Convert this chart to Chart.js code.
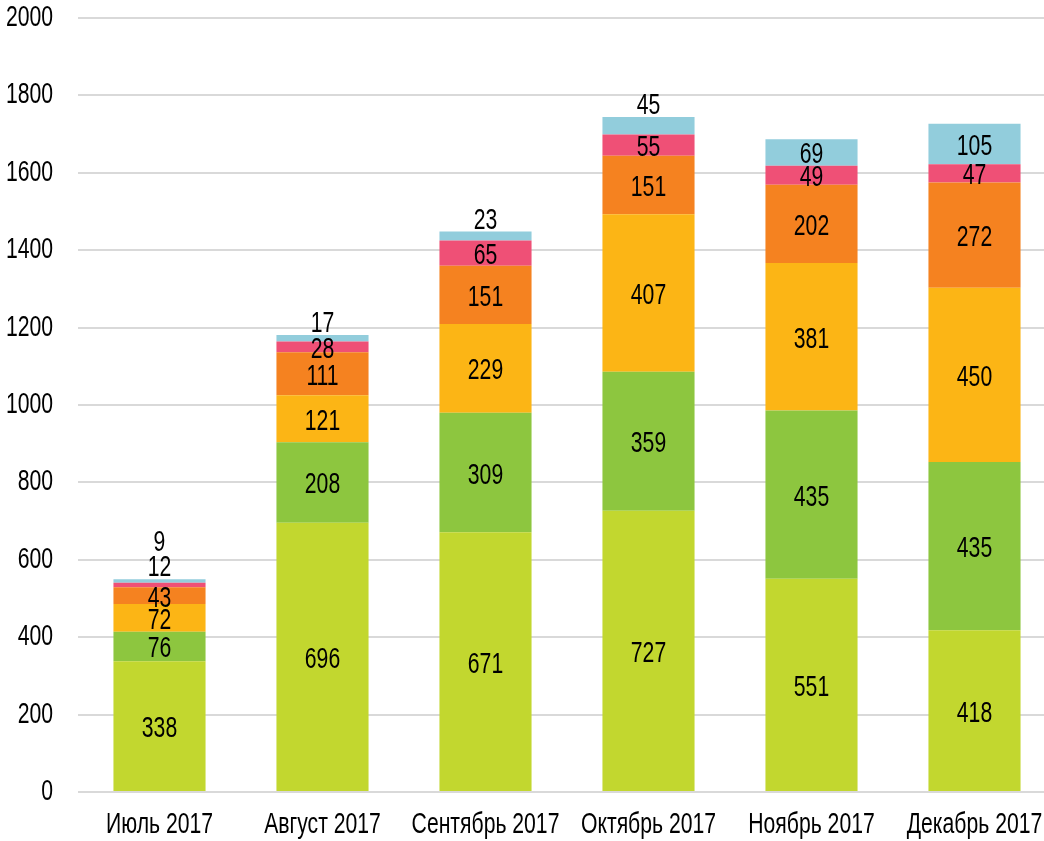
<!DOCTYPE html>
<html>
<head>
<meta charset="utf-8">
<script src="https://cdn.jsdelivr.net/npm/chart.js@4/dist/chart.umd.min.js"></script>
<style>
  html, body { margin: 0; padding: 0; background: #fff; overflow: hidden; }
  #wrap { width: 1044px; height: 841px; overflow: hidden; }
</style>
</head>
<body>
<div id="wrap"><canvas id="chart" width="1056" height="841" style="width:1056px;height:841px"></canvas></div>
<script>
const months = ["Июль 2017", "Август 2017", "Сентябрь 2017", "Октябрь 2017", "Ноябрь 2017", "Декабрь 2017"];
const series1 = [338, 696, 671, 727, 551, 418];
const series2 = [76, 208, 309, 359, 435, 435];
const series3 = [72, 121, 229, 407, 381, 450];
const series4 = [43, 111, 151, 151, 202, 272];
const series5 = [12, 28, 65, 55, 49, 47];
const series6 = [9, 17, 23, 45, 69, 105];
const yTicks = [0, 200, 400, 600, 800, 1000, 1200, 1400, 1600, 1800, 2000];

const colors = ["#c2d72f", "#8dc63f", "#fcb515", "#f58220", "#ef5076", "#92cddc"];
const FONT = "29px 'Liberation Sans', Arial, sans-serif";
const SQUEEZE = 0.73; // узкий шрифт как Arial Narrow

function narrowText(ctx, text, x, y) {
  ctx.save();
  ctx.translate(x, y);
  ctx.scale(SQUEEZE, 1);
  ctx.fillText(text, 0, 0);
  ctx.restore();
}

// подписи осей и значений рисуем сами, чтобы шрифт был узким
const textLayer = {
  id: "textLayer",
  afterDatasetsDraw(chart) {
    const ctx = chart.ctx;
    const xs = chart.scales.x, ys = chart.scales.y;
    ctx.save();
    ctx.font = FONT;
    ctx.fillStyle = "#000";

    ctx.textAlign = "right";
    ctx.textBaseline = "middle";
    yTicks.forEach(v => narrowText(ctx, String(v), 53, ys.getPixelForValue(v)));

    ctx.textAlign = "center";
    ctx.textBaseline = "alphabetic";
    months.forEach((m, i) => narrowText(ctx, m, xs.getPixelForValue(i), chart.chartArea.bottom + 41));

    ctx.textBaseline = "middle";
    const n = chart.data.datasets.length;
    months.forEach((m, i) => {
      let above = 0;
      const topBar = chart.getDatasetMeta(n - 1).data[i];
      chart.data.datasets.forEach((ds, d) => {
        const bar = chart.getDatasetMeta(d).data[i];
        const h = Math.abs(bar.base - bar.y);
        const limit = d === n - 1 ? 20 : 8;
        let y;
        if (h < limit) {
          y = topBar.y - 11 - above * 25;
          above++;
        } else {
          y = (bar.y + bar.base) / 2 + 3;
        }
        narrowText(ctx, String(ds.data[i]), bar.x, y);
      });
    });
    ctx.restore();
  }
};

const all = [series1, series2, series3, series4, series5, series6];

new Chart(document.getElementById("chart"), {
  type: "bar",
  data: {
    labels: months,
    datasets: all.map((s, k) => ({
      data: s,
      backgroundColor: colors[k],
      borderWidth: 0,
      categoryPercentage: 1,
      barPercentage: 0.565
    }))
  },
  options: {
    responsive: false,
    animation: false,
    layout: { padding: { top: 18, right: 0, left: 0, bottom: 0 } },
    plugins: { legend: { display: false }, tooltip: { enabled: false } },
    scales: {
      x: {
        stacked: true,
        grid: { display: false },
        border: { display: false },
        ticks: { display: false },
        afterFit(scale) { scale.height = 49; }
      },
      y: {
        stacked: true,
        min: 0,
        max: 2000,
        afterBuildTicks(scale) { scale.ticks = yTicks.map(v => ({ value: v })); },
        grid: { color: "#d9d9d9", lineWidth: 2, drawTicks: false },
        border: { display: false },
        ticks: { display: false },
        afterFit(scale) { scale.width = 78; }
      }
    }
  },
  plugins: [textLayer]
});
</script>
</body>
</html>
